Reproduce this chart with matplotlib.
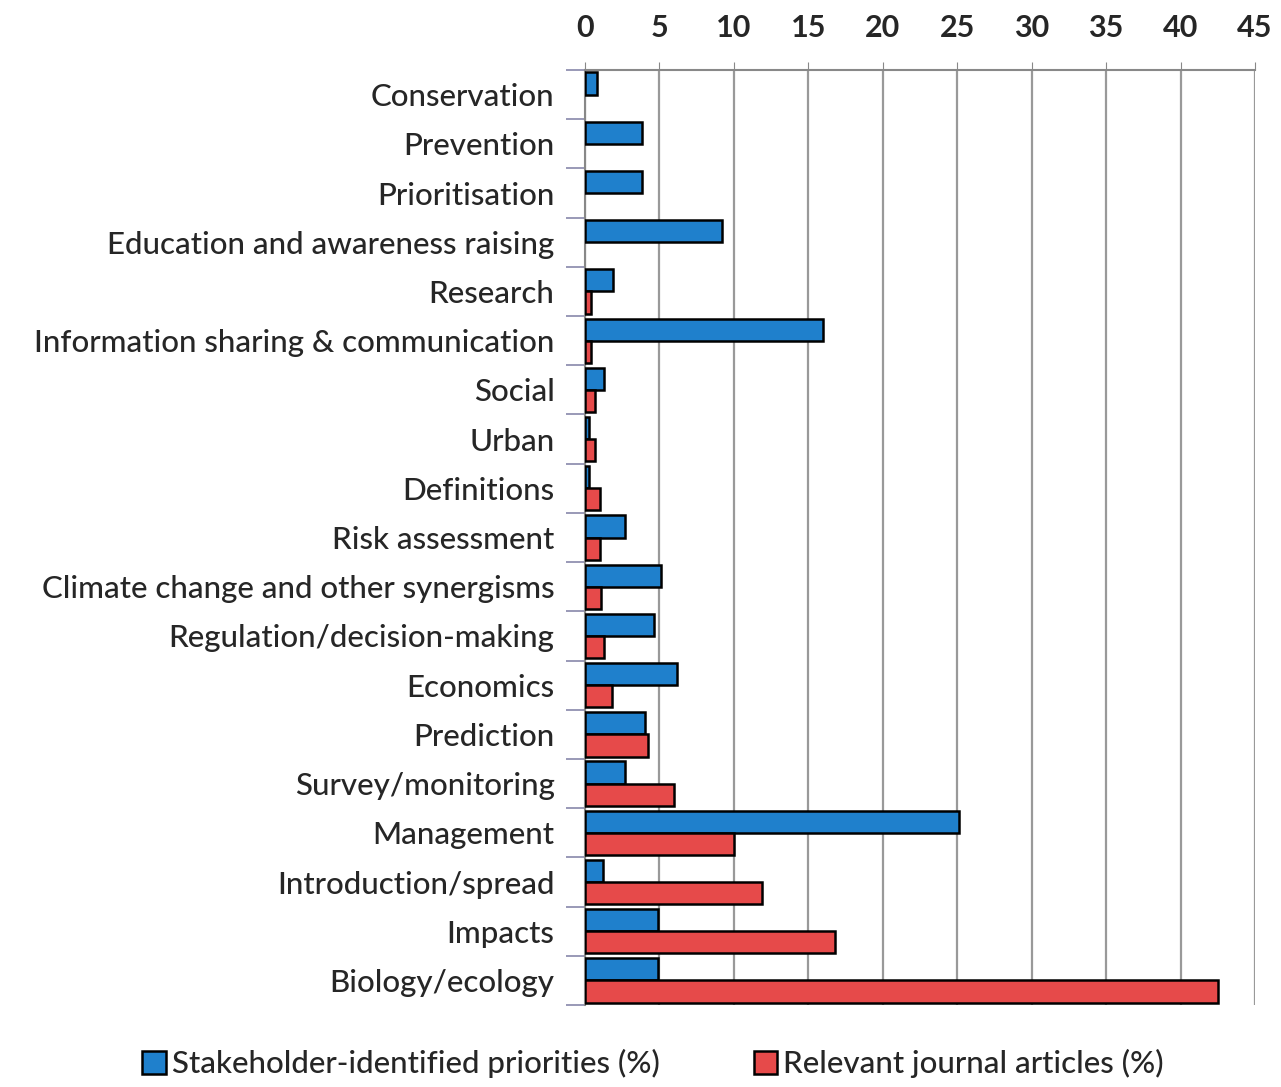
import numpy as np
import matplotlib
matplotlib.use("Agg")
import matplotlib.pyplot as plt
from matplotlib.patches import Patch

plt.rcParams['font.family'] = ['Lato', 'DejaVu Sans']

categories = ["Conservation", "Prevention", "Prioritisation",
              "Education and awareness raising", "Research",
              "Information sharing & communication", "Social", "Urban",
              "Definitions", "Risk assessment",
              "Climate change and other synergisms",
              "Regulation/decision-making", "Economics", "Prediction",
              "Survey/monitoring", "Management", "Introduction/spread",
              "Impacts", "Biology/ecology"]
stakeholder = [0.8, 3.8, 3.8, 9.2, 1.9, 16.0, 1.3, 0.3, 0.3, 2.7,
               5.1, 4.6, 6.2, 4.0, 2.7, 25.1, 1.2, 4.9, 4.9]
articles = [0.0, 0.0, 0.0, 0.0, 0.4, 0.4, 0.7, 0.7, 1.0, 1.0,
            1.1, 1.3, 1.8, 4.2, 6.0, 10.0, 11.9, 16.8, 42.5]
series_labels = ["Stakeholder-identified priorities (%)",
                 "Relevant journal articles (%)"]

blue = "#1f80cc"
red = "#e64a4a"
txt = "#262626"

fig = plt.figure(figsize=(12.81, 10.87), dpi=100)
ax = fig.add_axes([0.4567, 0.0754, 0.523, 0.8602])

y = np.arange(len(categories))
h = 0.45
ax.barh(y - h / 2, stakeholder, height=h, color=blue, edgecolor="black",
        linewidth=1.8, zorder=3)
art_vals = np.array(articles)
mask = art_vals > 0
ax.barh(y[mask] + h / 2, art_vals[mask], height=h, color=red,
        edgecolor="black", linewidth=1.8, zorder=3)

ax.set_xlim(0, 45)
ax.set_ylim(len(categories) - 0.5, -0.5)
ax.set_xticks(np.arange(0, 46, 5))
ax.xaxis.tick_top()
ax.tick_params(axis="x", length=6, color="#888888", labelsize=22,
               labelcolor=txt, pad=14)
for lab in ax.get_xticklabels():
    lab.set_fontweight("bold")
ax.grid(axis="x", color="#999999", linewidth=1.6, zorder=0)

# category labels centred, boundary tick marks
ax.set_yticks(y)
ax.set_yticklabels(categories, fontsize=22.5, color=txt, fontweight="medium")
ax.tick_params(axis="y", length=0, pad=22)
ax.set_yticks(np.arange(-0.5, len(categories), 1), minor=True)
ax.tick_params(axis="y", which="minor", length=14, color="#8888aa", width=1.2)

for s in ["right", "bottom"]:
    ax.spines[s].set_visible(False)
ax.spines["top"].set_color("#888888")
ax.spines["top"].set_linewidth(1.5)
ax.spines["left"].set_color("#888888")
ax.spines["left"].set_linewidth(1.5)

handles = [Patch(facecolor=blue, edgecolor="black", linewidth=1.8),
           Patch(facecolor=red, edgecolor="black", linewidth=1.8)]
fig.legend(handles, series_labels, loc="lower center",
           bbox_to_anchor=(0.51, -0.018), ncol=2, frameon=False,
           prop={"size": 22.5, "weight": "medium"},
           handlelength=0.75, handleheight=0.75,
           handletextpad=0.2, columnspacing=3.0,
           labelcolor=txt)

fig.savefig("out.png", dpi=100)
